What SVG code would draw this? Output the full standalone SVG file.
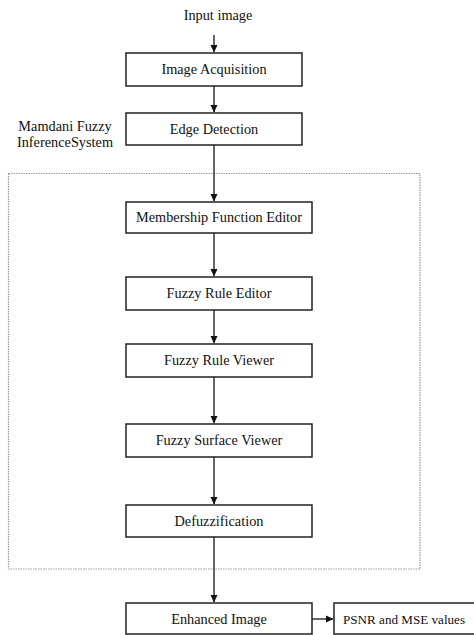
<svg xmlns="http://www.w3.org/2000/svg" width="474" height="635" viewBox="0 0 474 635">
<style>
.box{fill:#fff;stroke:#222;stroke-width:1.5}
.t{font-size:14.3px;fill:#111;text-anchor:middle}
.c{stroke:#333;stroke-width:1.5;fill:none}
</style>
<defs>
<marker id="ah" markerWidth="8" markerHeight="8" refX="7" refY="4" orient="auto" markerUnits="userSpaceOnUse">
<path d="M0,0.5 L7.5,4 L0,7.5 Z" fill="#111"/>
</marker>
</defs>
<rect x="8.5" y="173.5" width="411.5" height="395.5" fill="none" stroke="#999" stroke-width="1.2" stroke-dasharray="1.5,1"/>
<g id="connectors">
<line class="c" x1="214" y1="35" x2="214" y2="52" marker-end="url(#ah)"/>
<line class="c" x1="214" y1="86" x2="214" y2="112" marker-end="url(#ah)"/>
<line class="c" x1="214" y1="145" x2="214" y2="201" marker-end="url(#ah)"/>
<line class="c" x1="214" y1="233" x2="214" y2="276" marker-end="url(#ah)"/>
<line class="c" x1="214" y1="310" x2="214" y2="343" marker-end="url(#ah)"/>
<line class="c" x1="214" y1="377" x2="214" y2="423" marker-end="url(#ah)"/>
<line class="c" x1="214" y1="457" x2="214" y2="504" marker-end="url(#ah)"/>
<line class="c" x1="214" y1="537" x2="214" y2="602" marker-end="url(#ah)"/>
<line class="c" x1="312" y1="619" x2="333" y2="619" marker-end="url(#ah)"/>
</g>
<g font-family="Liberation Serif, Times New Roman, DejaVu Serif, serif">
<g id="input"><text class="t" x="218" y="20">Input image</text></g>
<g id="mamdani">
<text class="t" x="65" y="131">Mamdani Fuzzy</text>
<text class="t" x="65" y="147">InferenceSystem</text>
</g>
<g id="acq"><rect class="box" x="126" y="53" width="176" height="33"/><text class="t" x="214" y="74">Image Acquisition</text></g>
<g id="edge"><rect class="box" x="126" y="113" width="176" height="32"/><text class="t" x="214" y="134">Edge Detection</text></g>
<g id="mfe"><rect class="box" x="126" y="202" width="186" height="31"/><text class="t" x="219" y="222">Membership Function Editor</text></g>
<g id="fre"><rect class="box" x="126" y="277" width="186" height="33"/><text class="t" x="219" y="298">Fuzzy Rule Editor</text></g>
<g id="frv"><rect class="box" x="126" y="344" width="186" height="33"/><text class="t" x="219" y="365">Fuzzy Rule Viewer</text></g>
<g id="fsv"><rect class="box" x="126" y="424" width="186" height="33"/><text class="t" x="219" y="445">Fuzzy Surface Viewer</text></g>
<g id="defuzz"><rect class="box" x="126" y="505" width="186" height="32"/><text class="t" x="219" y="526">Defuzzification</text></g>
<g id="enh"><rect class="box" x="126" y="603" width="186" height="31"/><text class="t" x="219" y="624">Enhanced Image</text></g>
<g id="psnr"><rect class="box" x="334" y="603" width="150" height="31"/><text class="t" x="343" y="624" style="text-anchor:start;font-size:13px" textLength="122" lengthAdjust="spacingAndGlyphs">PSNR and MSE values</text></g>
</g>
</svg>
